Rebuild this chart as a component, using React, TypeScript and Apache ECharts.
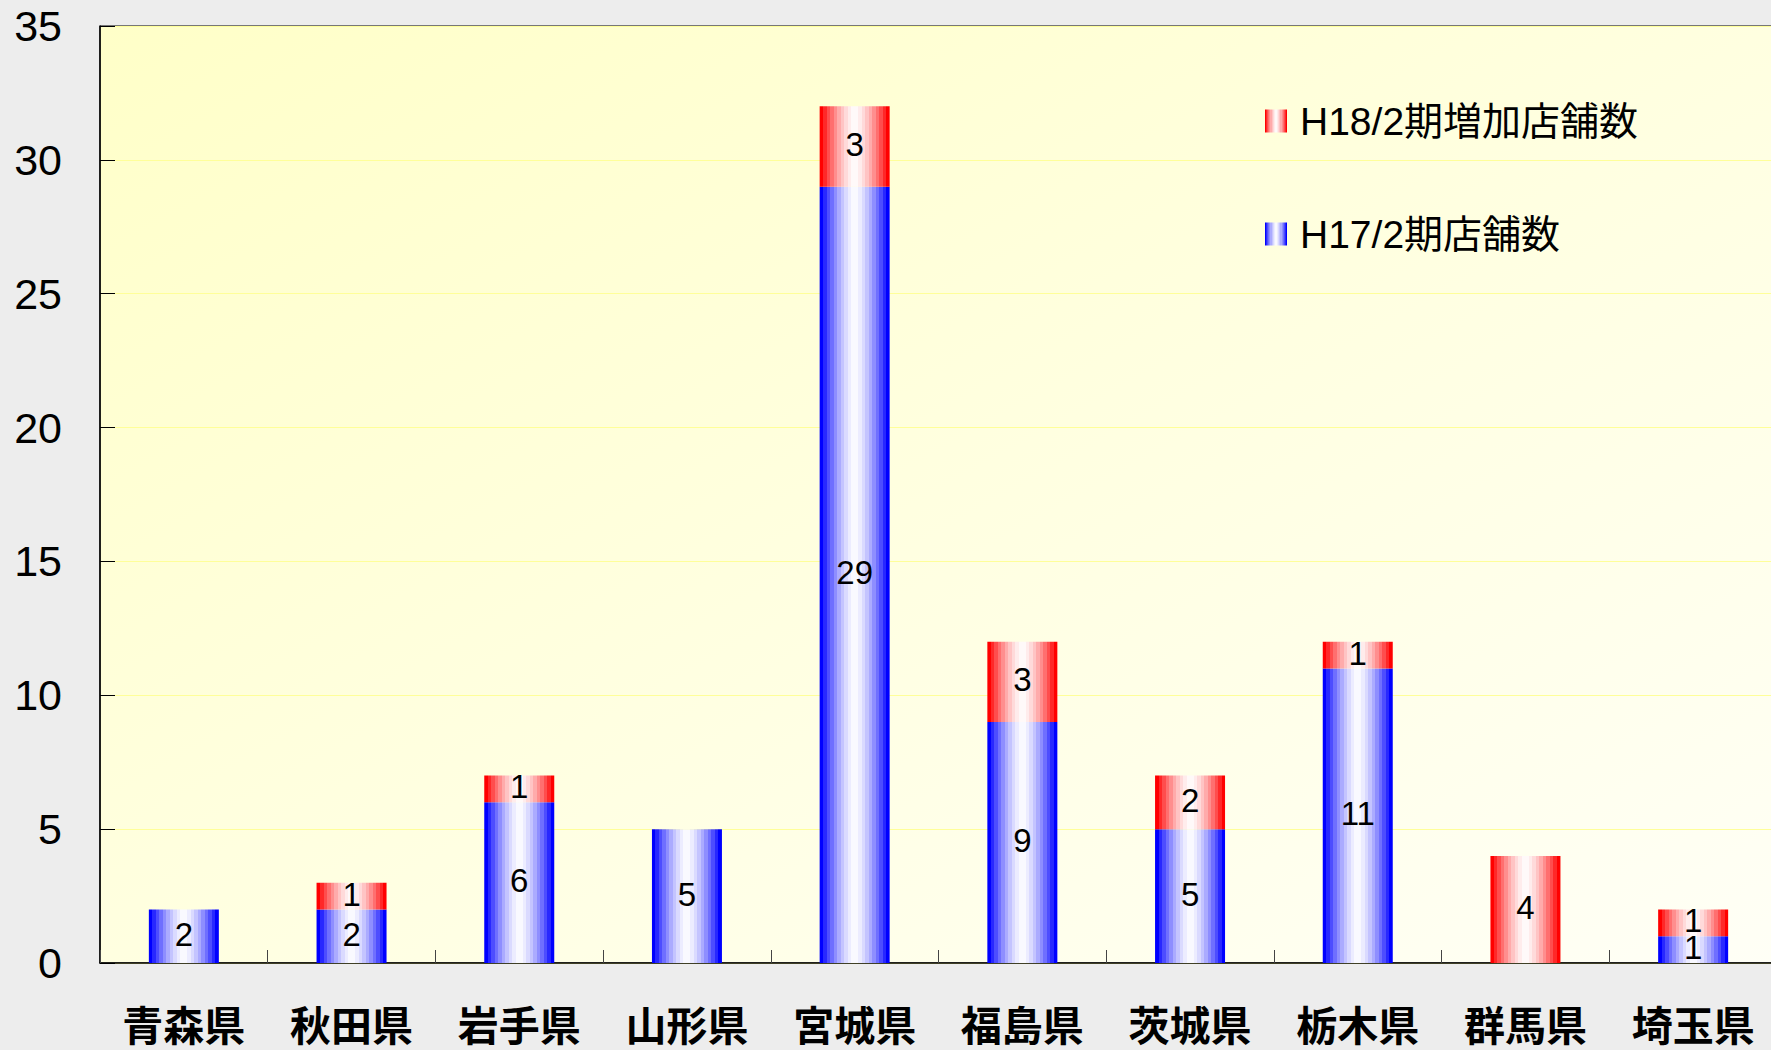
import React, { useEffect, useRef } from "react";
import * as echarts from "echarts";

const categories = ["青森県", "秋田県", "岩手県", "山形県", "宮城県", "福島県", "茨城県", "栃木県", "群馬県", "埼玉県"];
const h17Stores = [2, 2, 6, 5, 29, 9, 5, 11, 0, 1];
const h18Increase = [0, 1, 1, 0, 3, 3, 2, 1, 4, 1];
const yMin = 0;
const yMax = 35;
const yInterval = 5;
const nameH17 = "H17/2期店舗数";
const nameH18 = "H18/2期増加店舗数";

const FONT = "'Liberation Sans', Arial, 'Noto Sans CJK JP', sans-serif";
const CJK_BOLD = "'Noto Sans CJK JP', 'Liberation Sans', sans-serif";

function bandGradient(r: number, g: number, b: number) {
  const N = 10;
  const stops: { offset: number; color: string }[] = [];
  const colorAt = (i: number) => {
    const t = i / N;
    const f = 1 - Math.pow(1 - t, 1.6);
    const mix = (c: number) => Math.round(c + (255 - c) * f);
    return `rgb(${mix(r)},${mix(g)},${mix(b)})`;
  };
  for (let i = 0; i < N; i++) {
    const c = colorAt(i);
    stops.push({ offset: (i / N) * 0.5, color: c });
    stops.push({ offset: ((i + 1) / N) * 0.5 - 0.0005, color: c });
  }
  for (let i = N - 1; i >= 0; i--) {
    const c = colorAt(i);
    stops.push({ offset: 1 - ((i + 1) / N) * 0.5 + 0.0005, color: c });
    stops.push({ offset: 1 - (i / N) * 0.5, color: c });
  }
  return new echarts.graphic.LinearGradient(0, 0, 1, 0, stops);
}

export default function App() {
  const ref = useRef<HTMLDivElement>(null);
  useEffect(() => {
    if (!ref.current) return;
    const chart = echarts.init(ref.current, null, { renderer: "svg" });
    const labelCfg = {
      show: true,
      position: "inside",
      color: "#000",
      fontSize: 33,
      fontFamily: FONT,
      textBorderWidth: 0,
      offset: [0, -2],
      formatter: (p: any) => (p.value ? String(p.value) : ""),
    };
    chart.setOption({
      animation: false,
      backgroundColor: "#ededed",
      textStyle: { fontFamily: FONT },
      grid: {
        left: 100,
        top: 26,
        right: -6,
        bottom: 87,
        show: true,
        borderColor: "#000",
        borderWidth: 1,
        backgroundColor: new echarts.graphic.LinearGradient(0, 0, 1, 1, [
          { offset: 0, color: "#ffffc8" },
          { offset: 0.5, color: "#ffffe0" },
          { offset: 1, color: "#fffff6" },
        ]),
        containLabel: false,
        outerBoundsMode: "none",
      },
      legend: {
        orient: "vertical",
        left: 1265,
        top: 101,
        padding: 0,
        itemWidth: 22,
        itemHeight: 23,
        itemGap: 73,
        selectedMode: false,
        icon: "rect",
        data: [nameH18, nameH17],
        textStyle: {
          fontSize: 39,
          lineHeight: 40,
          color: "#000",
          fontFamily: FONT,
          padding: [0, 0, 0, 8],
        },
      },
      xAxis: {
        type: "category",
        data: categories,
        axisLine: { show: true, lineStyle: { color: "#000", width: 1.5 } },
        axisTick: { show: true, inside: true, length: 13, lineStyle: { color: "#444" } },
        axisLabel: {
          fontSize: 41,
          lineHeight: 40,
          fontWeight: "bold",
          color: "#000",
          fontFamily: CJK_BOLD,
          margin: 40,
          interval: 0,
        },
        splitLine: { show: false },
      },
      yAxis: {
        type: "value",
        min: yMin,
        max: yMax,
        interval: yInterval,
        axisLine: { show: true, lineStyle: { color: "#000", width: 1.5 } },
        axisTick: { show: true, inside: true, length: 15, lineStyle: { color: "#000" } },
        axisLabel: { fontSize: 43, color: "#000", margin: 38, fontFamily: FONT },
        splitLine: { show: true, lineStyle: { color: "#ffff99", width: 1 } },
      },
      series: [
        {
          name: nameH17,
          type: "bar",
          stack: "total",
          barWidth: 70,
          data: h17Stores,
          itemStyle: { color: bandGradient(0, 0, 255) },
          label: labelCfg,
        },
        {
          name: nameH18,
          type: "bar",
          stack: "total",
          barWidth: 70,
          data: h18Increase,
          itemStyle: { color: bandGradient(255, 0, 0) },
          label: labelCfg,
        },
      ],
    });
    return () => chart.dispose();
  }, []);
  return (
    <div
      ref={ref}
      style={{ position: "fixed", left: 0, top: 0, width: 1771, height: 1050 }}
    />
  );
}
